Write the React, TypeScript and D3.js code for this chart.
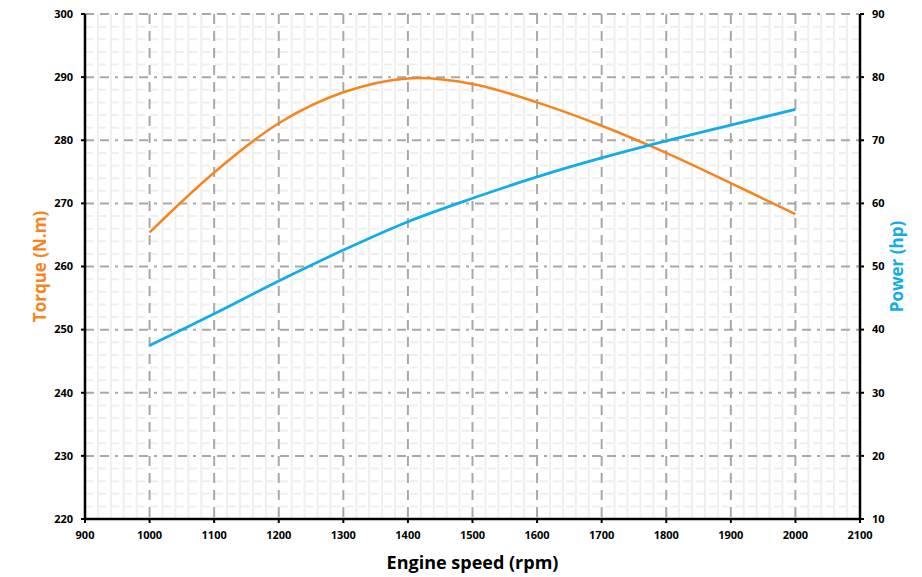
import React from "react";
import * as d3 from "d3";

const rpm = [1000, 1100, 1200, 1300, 1400, 1500, 1600, 1700, 1800, 1900, 2000];
const torque = [265.4, 274.9, 282.7, 287.6, 289.8, 288.9, 286.0, 282.3, 278.0, 273.2, 268.3];
const power = [37.5, 42.5, 47.7, 52.6, 57.1, 60.8, 64.2, 67.2, 69.9, 72.4, 74.9];
const xTicks = [900, 1000, 1100, 1200, 1300, 1400, 1500, 1600, 1700, 1800, 1900, 2000, 2100];
const leftTicks = [220, 230, 240, 250, 260, 270, 280, 290, 300];
const rightTicks = [10, 20, 30, 40, 50, 60, 70, 80, 90];

const W = 922, H = 577;
const L = 85, R = 860, T = 14, B = 519;
const ORANGE = "#f5851f";
const BLUE = "#12ade8";
const FONT = "'Open Sans', 'Noto Sans', sans-serif";

export default function App() {
  const x = d3.scaleLinear().domain([900, 2100]).range([L, R]);
  const yL = d3.scaleLinear().domain([220, 300]).range([B, T]);
  const yR = d3.scaleLinear().domain([10, 90]).range([B, T]);

  const minorX = d3.range(900, 2100.1, 20).filter((v) => v % 100 !== 0);
  const minorY = d3.range(220, 300.1, 2).filter((v) => v % 10 !== 0);

  const torqueLine = d3
    .line<number>()
    .x((_, i) => x(rpm[i]))
    .y((d) => yL(d))
    .curve(d3.curveCatmullRom.alpha(0.5))(torque) as string;
  const powerLine = d3
    .line<number>()
    .x((_, i) => x(rpm[i]))
    .y((d) => yR(d))
    .curve(d3.curveCatmullRom.alpha(0.5))(power) as string;

  return (
    <svg
      width={W}
      height={H}
      style={{ position: "absolute", left: 0, top: 0, background: "#fff" }}
      fontFamily={FONT}
    >
      <rect x={0} y={0} width={W} height={H} fill="#fff" />
      {/* minor grid */}
      {minorX.map((v) => (
        <line key={"mx" + v} x1={x(v)} x2={x(v)} y1={T} y2={B} stroke="#efefef" strokeWidth={2} />
      ))}
      {minorY.map((v) => (
        <line
          key={"my" + v}
          x1={L}
          x2={R}
          y1={yL(v)}
          y2={yL(v)}
          stroke="#efefef"
          strokeWidth={2}
          strokeDasharray="8,5"
        />
      ))}
      {/* major grid */}
      {leftTicks.map((v) => (
        <line
          key={"gy" + v}
          x1={L}
          x2={R}
          y1={yL(v)}
          y2={yL(v)}
          stroke="#aaa7a7"
          strokeWidth={2}
          strokeDasharray="9,6,9,6,3,6"
        />
      ))}
      {xTicks.map((v) => (
        <line
          key={"gx" + v}
          x1={x(v)}
          x2={x(v)}
          y1={T}
          y2={B}
          stroke="#aaa7a7"
          strokeWidth={2}
          strokeDasharray="10,7"
        />
      ))}
      {/* lines */}
      <path d={torqueLine} fill="none" stroke={ORANGE} strokeWidth={2.5} />
      <path d={powerLine} fill="none" stroke={BLUE} strokeWidth={2.75} />
      {/* axes */}
      <line x1={L} x2={L} y1={T} y2={B + 1} stroke="#000" strokeWidth={2.5} />
      <line x1={R} x2={R} y1={T} y2={B + 1} stroke="#000" strokeWidth={2.5} />
      <line x1={L - 1} x2={R + 1} y1={B} y2={B} stroke="#000" strokeWidth={2.5} />
      {leftTicks.map((v) => (
        <g key={"lt" + v}>
          <line x1={L - 4} x2={L} y1={yL(v)} y2={yL(v)} stroke="#000" strokeWidth={2} />
          <text x={L - 12} y={yL(v)} dy="0.35em" textAnchor="end" fontSize={11} fontWeight={700} fill="#000">
            {v}
          </text>
        </g>
      ))}
      {rightTicks.map((v) => (
        <g key={"rt" + v}>
          <line x1={R} x2={R + 4} y1={yR(v)} y2={yR(v)} stroke="#000" strokeWidth={2} />
          <text x={R + 12} y={yR(v)} dy="0.35em" textAnchor="start" fontSize={11} fontWeight={700} fill="#000">
            {v}
          </text>
        </g>
      ))}
      {xTicks.map((v) => (
        <g key={"xt" + v}>
          <line x1={x(v)} x2={x(v)} y1={B} y2={B + 4} stroke="#000" strokeWidth={2} />
          <text x={x(v)} y={B + 20} textAnchor="middle" fontSize={11} fontWeight={700} fill="#000">
            {v}
          </text>
        </g>
      ))}
      {/* titles */}
      <text x={(L + R) / 2} y={569} textAnchor="middle" fontSize={18} fontWeight={700} fill="#000">
        Engine speed (rpm)
      </text>
      <text
        transform={`translate(46, ${(T + B) / 2}) rotate(-90)`}
        textAnchor="middle"
        fontSize={17}
        fontWeight={700}
        fill={ORANGE}
      >
        Torque (N.m)
      </text>
      <text
        transform={`translate(903, ${(T + B) / 2}) rotate(-90)`}
        textAnchor="middle"
        fontSize={17}
        fontWeight={700}
        fill={BLUE}
      >
        Power (hp)
      </text>
    </svg>
  );
}
